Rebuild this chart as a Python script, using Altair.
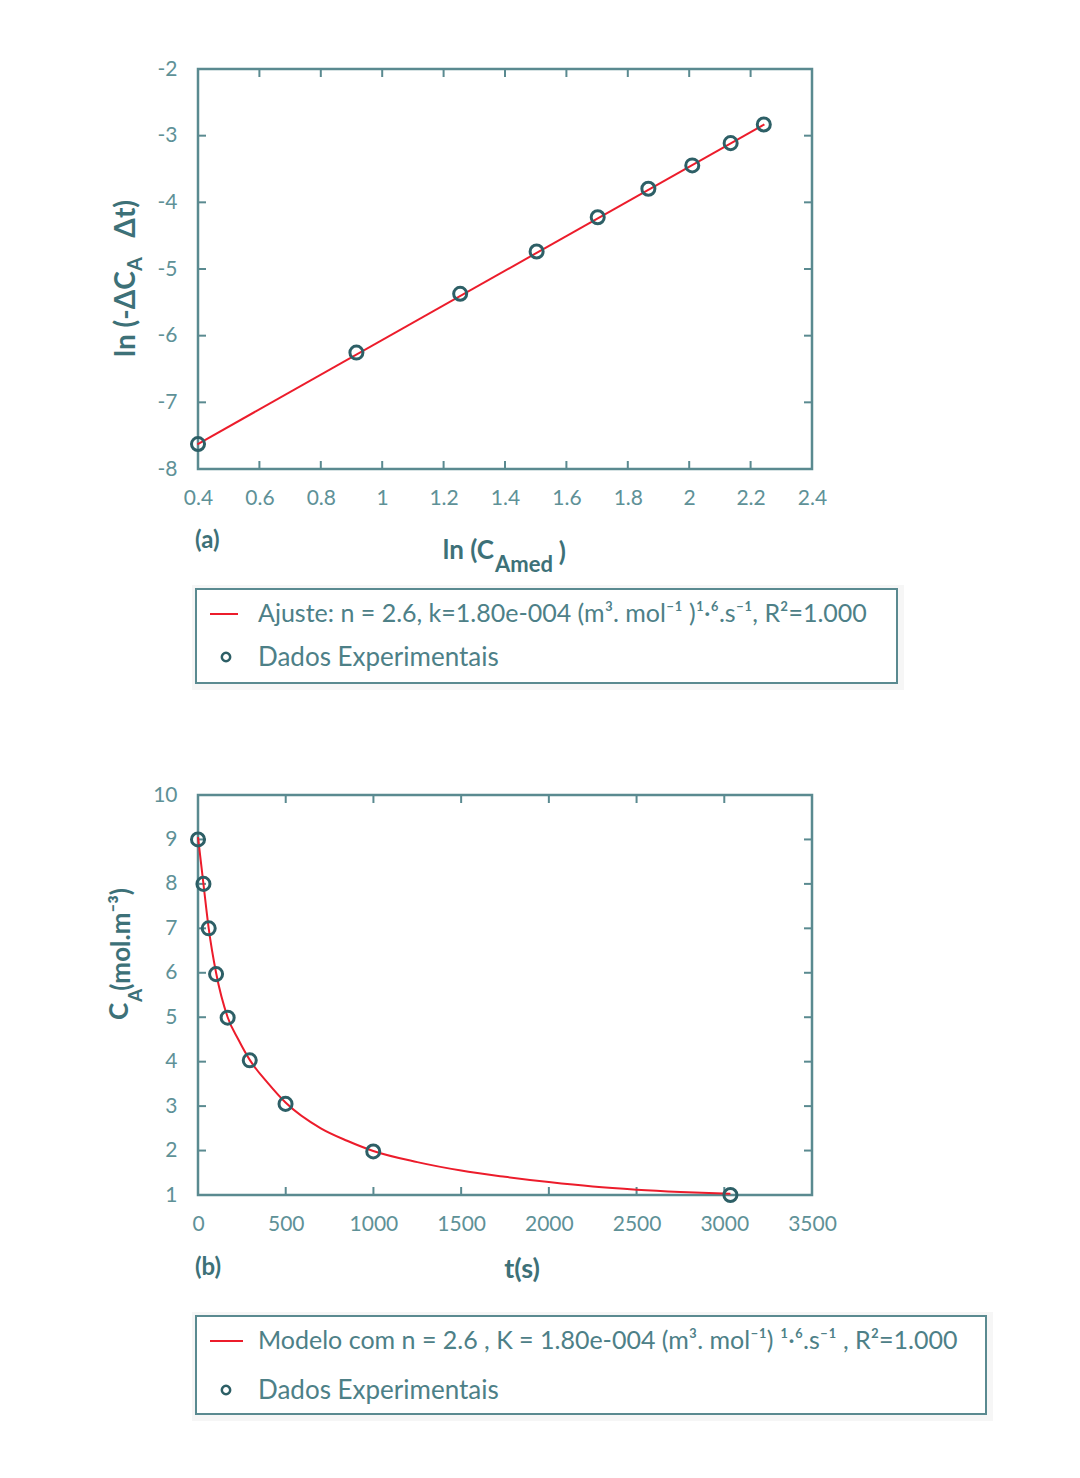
import altair as alt
import pandas as pd

# ---------------- data ----------------
# panel (a)
ln_cmed = [0.40, 0.916, 1.254, 1.503, 1.702, 1.867, 2.010, 2.135, 2.243]
ln_rate = [-7.626, -6.254, -5.372, -4.738, -4.224, -3.796, -3.446, -3.112, -2.833]
fit_x = [0.398, 2.245]
fit_y = [-7.63, -2.83]
a_xticks = [0.4, 0.6, 0.8, 1, 1.2, 1.4, 1.6, 1.8, 2, 2.2, 2.4]
a_yticks = [-8, -7, -6, -5, -4, -3, -2]

# panel (b)
t_exp = [0, 31, 61, 103, 169, 295, 499, 999, 3035]
c_exp = [9.0, 8.0, 7.0, 5.97, 4.99, 4.03, 3.05, 1.98, 1.0]
t_mod = [0, 31, 61, 103, 169, 230, 295, 400, 499, 700, 850, 999, 1250, 1500, 1750, 2000, 2250, 2500, 2750, 3035]
c_mod = [9.05, 8.0, 7.0, 6.0, 5.0, 4.5, 4.04, 3.51, 3.08, 2.5, 2.22, 1.99, 1.74, 1.55, 1.41, 1.29, 1.19, 1.12, 1.07, 1.03]
b_xticks = [0, 500, 1000, 1500, 2000, 2500, 3000, 3500]
b_yticks = [1, 2, 3, 4, 5, 6, 7, 8, 9, 10]

leg_a = ["Ajuste: n = 2.6, k=1.80e-004 (m³. mol⁻¹ )¹·⁶.s⁻¹, R²=1.000", "Dados Experimentais"]
leg_b = ["Modelo com n = 2.6 , K = 1.80e-004 (m³. mol⁻¹) ¹·⁶.s⁻¹ , R²=1.000", "Dados Experimentais"]

# ---------------- style ----------------
FONT = "Lato"
FRAME = "#5a8a90"
LABEL = "#5e9197"
TITLE = "#3d7178"
MARK = "#2d5f66"
RED = "#ec1c2b"
LEGTXT = "#4d8087"
W, H = 614, 400
TICK = 8

one = pd.DataFrame({"k": [0]})


def txt(text, x, y, size, color=TITLE, weight="normal", align="left", baseline="middle", angle=0):
    return alt.Chart(one).mark_text(
        text=text, font=FONT, fontSize=size, fontWeight=weight, color=color,
        align=align, baseline=baseline, angle=angle
    ).encode(x=alt.value(x), y=alt.value(y))


def panel(df_pts, df_line, xf, yf, xdom, ydom, xticks, yticks, monotone):
    xs = alt.Scale(domain=xdom, nice=False, zero=False)
    ys = alt.Scale(domain=ydom, nice=False, zero=False)
    xaxis = alt.Axis(values=xticks, labelExpr="'' + datum.value", ticks=False, tickSize=0, domain=False,
                     grid=False, labelFont=FONT, labelFontSize=21, labelColor=LABEL, labelPadding=18,
                     labelFlush=False, title=None)
    yaxis = alt.Axis(values=yticks, labelExpr="'' + datum.value", ticks=False, tickSize=0, domain=False,
                     grid=False, labelFont=FONT, labelFontSize=21, labelColor=LABEL, labelPadding=21,
                     labelFlush=False, title=None)
    dx = pd.DataFrame({"v": xticks})
    dy = pd.DataFrame({"v": yticks})
    tick_style = dict(color=FRAME, strokeWidth=2)
    tb = alt.Chart(dx).mark_rule(**tick_style).encode(x=alt.X("v:Q", scale=xs, axis=xaxis), y=alt.value(H), y2=alt.value(H - TICK))
    tt = alt.Chart(dx).mark_rule(**tick_style).encode(x=alt.X("v:Q", scale=xs), y=alt.value(0), y2=alt.value(TICK))
    tl = alt.Chart(dy).mark_rule(**tick_style).encode(y=alt.Y("v:Q", scale=ys, axis=yaxis), x=alt.value(0), x2=alt.value(TICK))
    tr = alt.Chart(dy).mark_rule(**tick_style).encode(y=alt.Y("v:Q", scale=ys), x=alt.value(W), x2=alt.value(W - TICK))
    line = alt.Chart(df_line).mark_line(color=RED, strokeWidth=2, interpolate="monotone" if monotone else "linear").encode(
        x=alt.X(f"{xf}:Q", scale=xs), y=alt.Y(f"{yf}:Q", scale=ys))
    pts = alt.Chart(df_pts).mark_point(shape="circle", size=170, filled=False, color=MARK, strokeWidth=3, opacity=1).encode(
        x=alt.X(f"{xf}:Q", scale=xs), y=alt.Y(f"{yf}:Q", scale=ys))
    return [tb, tt, tl, tr, line, pts]


def legend(x2, y1, y2, texts, line_x2, row2_y):
    glow = alt.Chart(one).mark_rect(fill="white", stroke="#000000", strokeOpacity=0.035, strokeWidth=10).encode(
        x=alt.value(-1), x2=alt.value(x2 + 2), y=alt.value(y1 + 1), y2=alt.value(y2 + 2))
    box = alt.Chart(one).mark_rect(fill="white", stroke=FRAME, strokeWidth=2).encode(
        x=alt.value(-2), x2=alt.value(x2), y=alt.value(y1), y2=alt.value(y2))
    ly = y1 + 25
    lr = alt.Chart(one).mark_rule(color=RED, strokeWidth=2).encode(
        x=alt.value(12), x2=alt.value(line_x2), y=alt.value(ly))
    lp = alt.Chart(one).mark_point(shape="circle", size=70, filled=False, color=MARK, strokeWidth=2.5, opacity=1).encode(
        x=alt.value(28), y=alt.value(row2_y))
    t1 = txt(texts[0], 60, ly, 25, color=LEGTXT)
    t2 = txt(texts[1], 60, row2_y + 1, 26, color=LEGTXT)
    return [glow, box, lr, lp, t1, t2]


# ---------------- panel (a) ----------------
dfa = pd.DataFrame({"x": ln_cmed, "y": ln_rate})
dfa_fit = pd.DataFrame({"x": fit_x, "y": fit_y})
anchor = alt.Chart(one).mark_rect(fill="white").encode(
    x=alt.value(-188), x2=alt.value(-187), y=alt.value(-59), y2=alt.value(-58))
top_layers = [anchor] + panel(dfa, dfa_fit, "x", "y", [0.4, 2.4], [-8, -2], a_xticks, a_yticks, False)
top_layers += [
    txt("(a)", -3, 472, 24, weight="bold"),
    txt("ln (C", 296, 482, 26, weight="bold", align="right"),
    txt("Amed", 297, 496, 22, weight="bold"),
    txt(")", 368, 484, 26, weight="bold", align="right"),
    txt("ln (-ΔC", -63, 288, 28, weight="bold", angle=270, baseline="alphabetic"),
    txt("A", -56, 202, 20, weight="bold", angle=270, baseline="alphabetic"),
    txt("Δt)", -63, 131, 28, weight="bold", align="right", angle=270, baseline="alphabetic"),
]
top_layers += legend(699, 520, 614, leg_a, 40, 588)
top = alt.layer(*top_layers).properties(width=W, height=H)

# ---------------- panel (b) ----------------
dfb = pd.DataFrame({"x": t_exp, "y": c_exp})
dfb_mod = pd.DataFrame({"x": t_mod, "y": c_mod})
bot_layers = panel(dfb, dfb_mod, "x", "y", [0, 3500], [1, 10], b_xticks, b_yticks, True)
bot_layers += [
    txt("(b)", -3, 473, 24, weight="bold"),
    txt("t(s)", 324, 475, 27, weight="bold", align="center"),
    txt("C", -70, 225, 26, weight="bold", angle=270, baseline="alphabetic"),
    txt("A", -56, 207, 19, weight="bold", angle=270, baseline="alphabetic"),
    txt("(mol.m⁻³)", -68, 93, 26, weight="bold", align="right", angle=270, baseline="alphabetic"),
]
bot_layers += legend(788, 521, 619, leg_b, 45, 595)
bot = alt.layer(*bot_layers).properties(width=W, height=H)

chart = alt.vconcat(top, bot, spacing=326, bounds="flush").properties(padding=0).configure_view(
    stroke=FRAME, strokeWidth=2.5
).configure_axis(grid=False)

chart.save("out.html", embed_options={"renderer": "svg", "actions": False})
